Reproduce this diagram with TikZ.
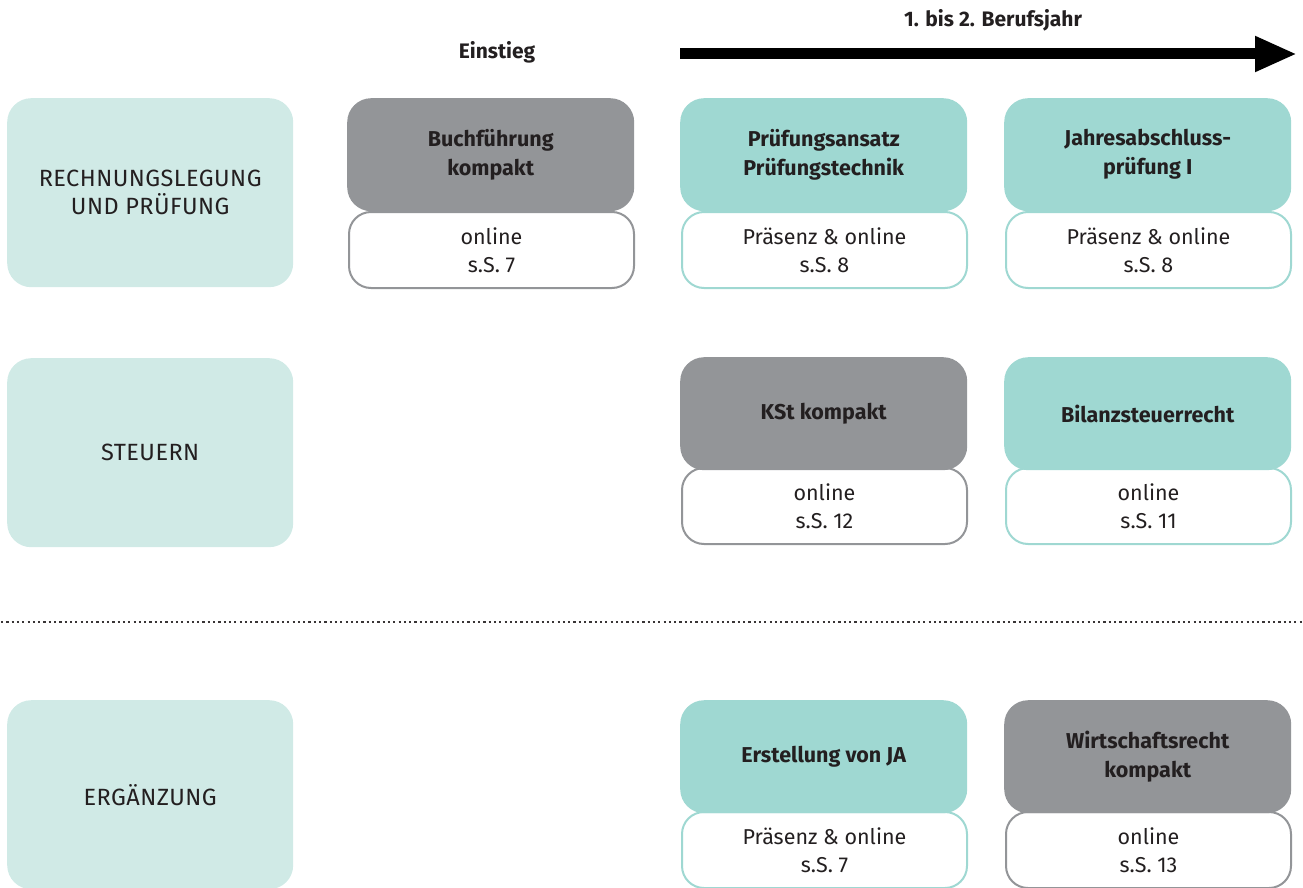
\documentclass[tikz,border=0pt]{standalone}
\usepackage{fontspec}
\setmainfont{Fira Sans}
\newfontfamily\catfont[LetterSpace=2]{Fira Sans}
\usetikzlibrary{arrows.meta}
\definecolor{cgray}{HTML}{939598}
\definecolor{cteal}{HTML}{9FD8D2}
\definecolor{clight}{HTML}{D0EAE6}
\definecolor{ctext}{HTML}{231F20}
\tikzset{
  base/.style={anchor=north west, inner sep=0pt, align=center, text=ctext},
  catbox/.style={base, fill=clight, rounded corners=24pt, minimum width=286pt, minimum height=189pt, font=\catfont\fontsize{23.5}{28}\selectfont},
  headbox/.style={base, rounded corners=24pt, minimum width=287pt, minimum height=113pt, font=\bfseries\fontsize{21.5}{29}\selectfont},
  graytop/.style={headbox, fill=cgray},
  tealtop/.style={headbox, fill=cteal},
  infobox/.style={base, fill=white, line width=2pt, rounded corners=22pt, minimum width=285pt, minimum height=76pt, font=\fontsize{21.5}{28}\selectfont},
  grayinfo/.style={infobox, draw=cgray},
  tealinfo/.style={infobox, draw=cteal},
  toplabel/.style={text=ctext, font=\bfseries\fontsize{21}{24}\selectfont, inner sep=0pt}
}
\begin{document}
\begin{tikzpicture}[x=1pt,y=-1pt]
\useasboundingbox (0,0) rectangle (1303,888);
% categories
\node[catbox] (c1) at (7,98) {RECHNUNGSLEGUNG\\UND PRÜFUNG};
\node[catbox] (c2) at (7,358) {STEUERN};
\node[catbox] (c3) at (7,700) {ERGÄNZUNG};
% header labels
\node[toplabel] (einstieg) at (497,52) {Einstieg};
\node[toplabel] (jahr) at (993,20) {1. bis 2. Berufsjahr};
\coordinate (arrS) at (680,54);
\coordinate (arrE) at (1297,54);
\draw[line width=11pt, -{Triangle[length=42pt,width=33pt]}] (arrS) -- (arrE);
% row 1
\node[grayinfo] (b1i) at (348,211) {online\\s.S. 7};
\node[graytop] (b1) at (347,98) {Buchführung\\kompakt};
\node[tealinfo] (p1i) at (681,211) {Präsenz \& online\\s.S. 8};
\node[tealtop] (p1) at (680,98) {Prüfungsansatz\\Prüfungstechnik};
\node[tealinfo] (j1i) at (1005,211) {Präsenz \& online\\s.S. 8};
\node[tealtop] (j1) at (1004,98) {Jahresabschluss-\\prüfung I};
% row 2
\node[grayinfo] (k2i) at (681,467) {online\\s.S. 12};
\node[graytop] (k2) at (680,357) {KSt kompakt};
\node[tealinfo] (s2i) at (1005,467) {online\\s.S. 11};
\node[tealtop] (s2) at (1004,357) {Bilanzsteuerrecht};
% separator
\coordinate (sepL) at (1,622);
\coordinate (sepR) at (1303,622);
\draw[line width=2.4pt, dash pattern=on 2.2pt off 3.1pt, color=ctext!90] (sepL) -- (sepR);
% row 3
\node[tealinfo] (e3i) at (681,811) {Präsenz \& online\\s.S. 7};
\node[tealtop] (e3) at (680,700) {Erstellung von JA};
\node[grayinfo] (w3i) at (1005,811) {online\\s.S. 13};
\node[graytop] (w3) at (1004,700) {Wirtschaftsrecht\\kompakt};
\end{tikzpicture}
\end{document}
